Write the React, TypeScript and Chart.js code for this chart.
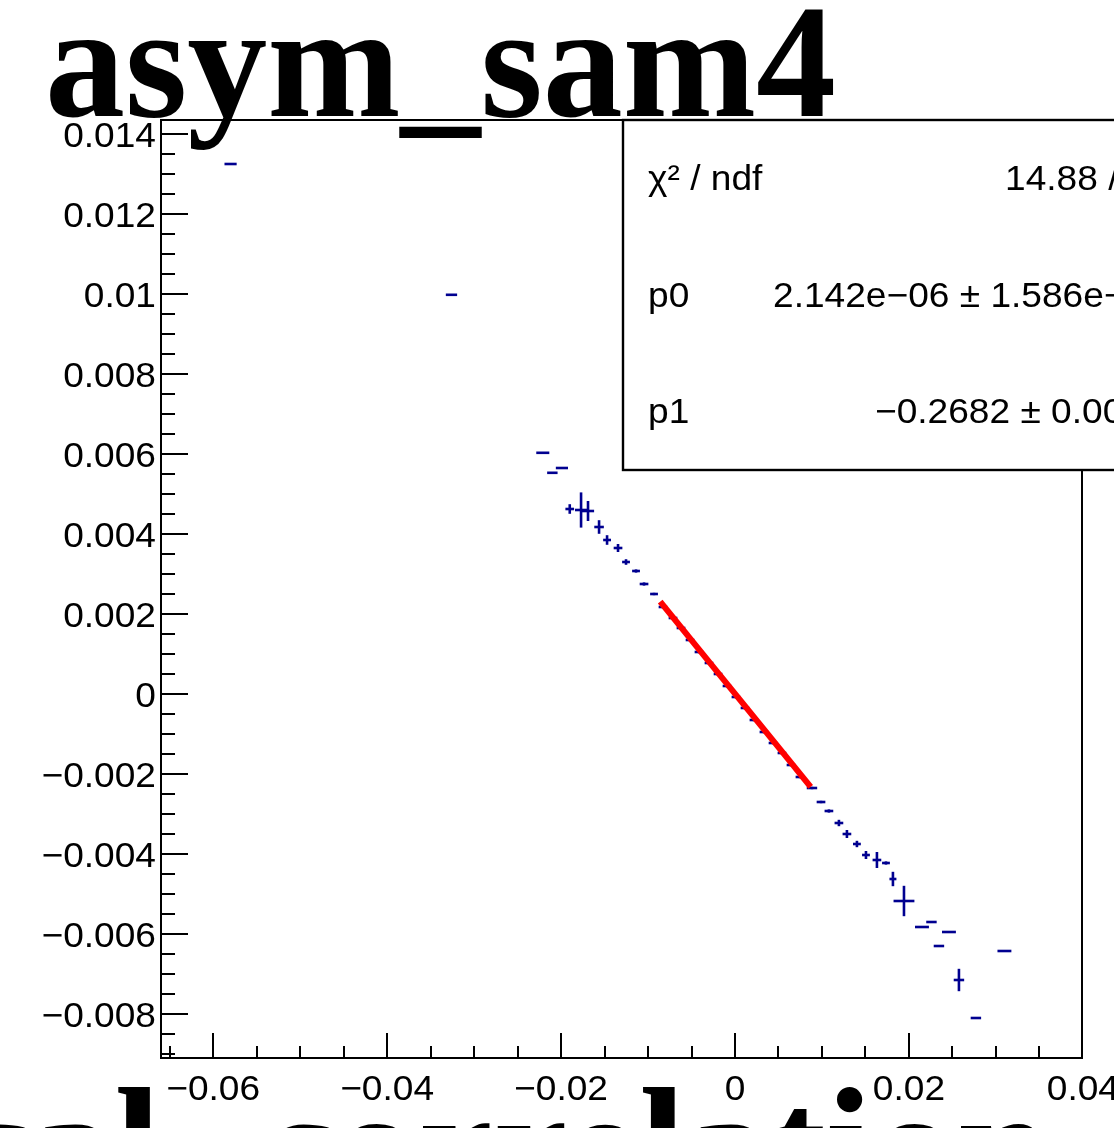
import React, { useEffect, useRef } from "react";
import { Chart, registerables } from "chart.js";

Chart.register(...registerables);

// ---- text ----
const TITLE = "asym_sam4";
const BOTTOM_PREFIX = "cal";
const BOTTOM_TEXT = "correlation";
const STATS_LABELS = ["χ² / ndf", "p0", "p1"];
const STATS_VALUES = ["14.88 /", "2.142e−06 ± 1.586e−", "−0.2682 ± 0.00"];

// ---- axes ----
const X_MIN = -0.066;
const X_MAX = 0.0399;
const Y_MIN = -0.0091;
const Y_MAX = 0.01435;
const X_MAJOR_TICKS = [-0.06, -0.04, -0.02, 0, 0.02, 0.04];
const X_TICK_LABELS = ["−0.06", "−0.04", "−0.02", "0", "0.02", "0.04"];
const Y_MAJOR_TICKS = [-0.008, -0.006, -0.004, -0.002, 0, 0.002, 0.004, 0.006, 0.008, 0.01, 0.012, 0.014];
const Y_TICK_LABELS = ["−0.008", "−0.006", "−0.004", "−0.002", "0", "0.002", "0.004", "0.006", "0.008", "0.01", "0.012", "0.014"];
const X_MINOR_STEP = 0.005;
const Y_MINOR_STEP = 0.0005;

// ---- data points (profile-like, with error bars) ----
const pointX = [
  -0.058, -0.0326, -0.0221, -0.021, -0.0199, -0.019, -0.0177, -0.0169, -0.01563, -0.01471,
  -0.01345, -0.01253, -0.01138, -0.01046, -0.00931, -0.00828, -0.00713, -0.00621, -0.00517, -0.00414,
  -0.00299, -0.00195, -0.00092, 0.00011, 0.00115, 0.00218, 0.00333, 0.00437, 0.0054, 0.00644,
  0.00747, 0.00885, 0.00989, 0.0108, 0.01195, 0.01287, 0.01402, 0.01506, 0.01632, 0.01736,
  0.01816, 0.01943, 0.0215, 0.02259, 0.02345, 0.0246, 0.02575, 0.0277, 0.03098,
];
const pointY = [
  0.01325, 0.00998, 0.00603, 0.00553, 0.00565, 0.004625, 0.0046, 0.004575, 0.004175, 0.00385,
  0.00365, 0.0033, 0.003075, 0.00275, 0.0025, 0.002175, 0.0019, 0.00165, 0.00135, 0.00105,
  0.000775, 0.0005, 0.0002, -0.000075, -0.00035, -0.00065, -0.00095, -0.001225, -0.001475, -0.001775,
  -0.002075, -0.00235, -0.0027, -0.002925, -0.003225, -0.0035, -0.00375, -0.004025, -0.00415, -0.004225,
  -0.004625, -0.005175, -0.005825, -0.0057, -0.0063, -0.00595, -0.00715, -0.0081, -0.006425,
];
const pointXErr = [
  0.0007, 0.00065, 0.00075, 0.0006, 0.0007, 0.0005, 0.0007, 0.0007, 0.00055, 0.00045,
  0.0005, 0.00045, 0.00045, 0.0005, 0.00045, 0.0005, 0.0005, 0.0005, 0.0005, 0.0005,
  0.0005, 0.0005, 0.0005, 0.0005, 0.0005, 0.0005, 0.0005, 0.0005, 0.0005, 0.0005,
  0.0005, 0.0006, 0.0005, 0.0005, 0.0005, 0.0005, 0.00045, 0.00045, 0.0005, 0.00045,
  0.0004, 0.0012, 0.0008, 0.0006, 0.0006, 0.0008, 0.0006, 0.0006, 0.0008,
];
const pointYErr = [
  0, 0, 0, 0, 0, 0.00012, 0.00044, 0.00025, 0.00017, 0.00012,
  0.0001, 0.00007, 0.00004, 0.00004, 0.00003, 0.00003, 0.00003, 0.00003, 0.00003, 0.00003,
  0.00003, 0.00003, 0.00003, 0.00003, 0.00003, 0.00003, 0.00003, 0.00003, 0.00003, 0.00003,
  0.00003, 0.00003, 0.00003, 0.00004, 0.00008, 0.0001, 0.00008, 0.0001, 0.0002, 0.00004,
  0.00018, 0.00038, 0, 0, 0, 0, 0.00028, 0, 0,
];

// ---- fit line endpoints ----
const fitX = [-0.0086, 0.0087];
const fitY = [0.00231, -0.00232];

const NAVY = "#000090";
const SANS = "'Liberation Sans', Arial, sans-serif";
const SERIF = "'Liberation Serif', 'Times New Roman', serif";

function drawText(
  ctx: CanvasRenderingContext2D,
  text: string,
  x: number,
  y: number,
  font: string,
  align: CanvasTextAlign,
  sx = 1
) {
  ctx.save();
  ctx.font = font;
  ctx.textAlign = align;
  ctx.textBaseline = "alphabetic";
  ctx.fillStyle = "#000";
  ctx.translate(x, y);
  ctx.scale(sx, 1);
  ctx.fillText(text, 0, 0);
  ctx.restore();
}

const rootPlugin = {
  id: "rootStyle",
  beforeDatasetsDraw(chart: any) {
    const ctx: CanvasRenderingContext2D = chart.ctx;
    const xs = chart.scales.x;
    const ys = chart.scales.y;
    ctx.save();
    ctx.strokeStyle = NAVY;
    ctx.lineWidth = 2.6;
    for (let i = 0; i < pointX.length; i++) {
      const px = xs.getPixelForValue(pointX[i]);
      const py = ys.getPixelForValue(pointY[i]);
      const x0 = xs.getPixelForValue(pointX[i] - pointXErr[i]);
      const x1 = xs.getPixelForValue(pointX[i] + pointXErr[i]);
      ctx.beginPath();
      ctx.moveTo(x0, py);
      ctx.lineTo(x1, py);
      ctx.stroke();
      if (pointYErr[i] > 0) {
        const y0 = ys.getPixelForValue(pointY[i] - pointYErr[i]);
        const y1 = ys.getPixelForValue(pointY[i] + pointYErr[i]);
        ctx.beginPath();
        ctx.moveTo(px, y0);
        ctx.lineTo(px, y1);
        ctx.stroke();
      }
    }
    ctx.restore();
  },
  afterDraw(chart: any) {
    const ctx: CanvasRenderingContext2D = chart.ctx;
    const xs = chart.scales.x;
    const ys = chart.scales.y;
    const a = chart.chartArea;
    ctx.save();
    // frame
    ctx.strokeStyle = "#000";
    ctx.lineWidth = 2;
    ctx.strokeRect(a.left, a.top, a.right - a.left, a.bottom - a.top);

    // x ticks
    ctx.lineWidth = 2;
    const nx0 = Math.ceil(X_MIN / X_MINOR_STEP - 1e-9);
    const nx1 = Math.floor(X_MAX / X_MINOR_STEP + 1e-9);
    for (let k = nx0; k <= nx1; k++) {
      const v = k * X_MINOR_STEP;
      const isMajor = X_MAJOR_TICKS.some((t) => Math.abs(t - v) < 1e-9);
      const px = Math.round(xs.getPixelForValue(v));
      const len = isMajor ? 25 : 12;
      ctx.beginPath();
      ctx.moveTo(px, a.bottom);
      ctx.lineTo(px, a.bottom - len);
      ctx.stroke();
    }
    // y ticks
    const ny0 = Math.ceil(Y_MIN / Y_MINOR_STEP - 1e-9);
    const ny1 = Math.floor(Y_MAX / Y_MINOR_STEP + 1e-9);
    for (let k = ny0; k <= ny1; k++) {
      const v = k * Y_MINOR_STEP;
      const isMajor = Y_MAJOR_TICKS.some((t) => Math.abs(t - v) < 1e-9);
      const py = Math.round(ys.getPixelForValue(v));
      const len = isMajor ? 27 : 14;
      ctx.beginPath();
      ctx.moveTo(a.left, py);
      ctx.lineTo(a.left + len, py);
      ctx.stroke();
    }

    // tick labels
    const labFont = `35px ${SANS}`;
    X_MAJOR_TICKS.forEach((t, i) => {
      drawText(ctx, X_TICK_LABELS[i], xs.getPixelForValue(t), 1100, labFont, "center", 1.06);
    });
    Y_MAJOR_TICKS.forEach((t, i) => {
      drawText(ctx, Y_TICK_LABELS[i], 156, ys.getPixelForValue(t) + 12.5, labFont, "right", 1.06);
    });

    // stats box
    ctx.fillStyle = "#fff";
    ctx.fillRect(623, 120, 600, 350);
    ctx.strokeStyle = "#000";
    ctx.lineWidth = 2.4;
    ctx.strokeRect(623, 120, 600, 350);
    const sFont = `35px ${SANS}`;
    const baselines = [190, 307, 423];
    const valueX = [1005, 773, 875];
    STATS_LABELS.forEach((s, i) => drawText(ctx, s, 648, baselines[i], sFont, "left", 1.06));
    STATS_VALUES.forEach((s, i) => drawText(ctx, s, valueX[i], baselines[i], sFont, "left", 1.06));

    // title & bottom text
    drawText(ctx, TITLE, 45, 116, `bold 160px ${SERIF}`, "left");
    drawText(ctx, BOTTOM_PREFIX, -44, 1203, `bold 168px ${SERIF}`, "left");
    drawText(ctx, BOTTOM_TEXT, 260, 1203, `bold 168px ${SERIF}`, "left");
    ctx.restore();
  },
};

export default function App() {
  const ref = useRef<HTMLCanvasElement | null>(null);
  useEffect(() => {
    document.body.style.margin = "0";
    const canvas = ref.current!;
    const chart = new Chart(canvas, {
      type: "scatter",
      data: {
        datasets: [
          {
            label: "data",
            data: pointX.map((x, i) => ({ x, y: pointY[i] })),
            pointRadius: 0,
            showLine: false,
            borderColor: NAVY,
          },
          {
            label: "fit",
            data: fitX.map((x, i) => ({ x, y: fitY[i] })),
            showLine: true,
            pointRadius: 0,
            borderColor: "#ff0000",
            borderWidth: 6,
            fill: false,
          },
        ],
      },
      options: {
        animation: false,
        responsive: false,
        maintainAspectRatio: false,
        devicePixelRatio: 1,
        layout: { padding: { left: 161, right: 32, top: 120, bottom: 70 } },
        scales: {
          x: { type: "linear", min: X_MIN, max: X_MAX, display: false },
          y: { type: "linear", min: Y_MIN, max: Y_MAX, display: false },
        },
        plugins: {
          legend: { display: false },
          tooltip: { enabled: false },
          title: { display: false },
        },
      },
      plugins: [rootPlugin],
    });
    return () => chart.destroy();
  }, []);
  return (
    <div
      style={{
        position: "fixed",
        left: 0,
        top: 0,
        width: 1114,
        height: 1128,
        overflow: "hidden",
        background: "#fff",
      }}
    >
      <canvas ref={ref} width={1114} height={1128} style={{ width: 1114, height: 1128, display: "block" }} />
    </div>
  );
}
